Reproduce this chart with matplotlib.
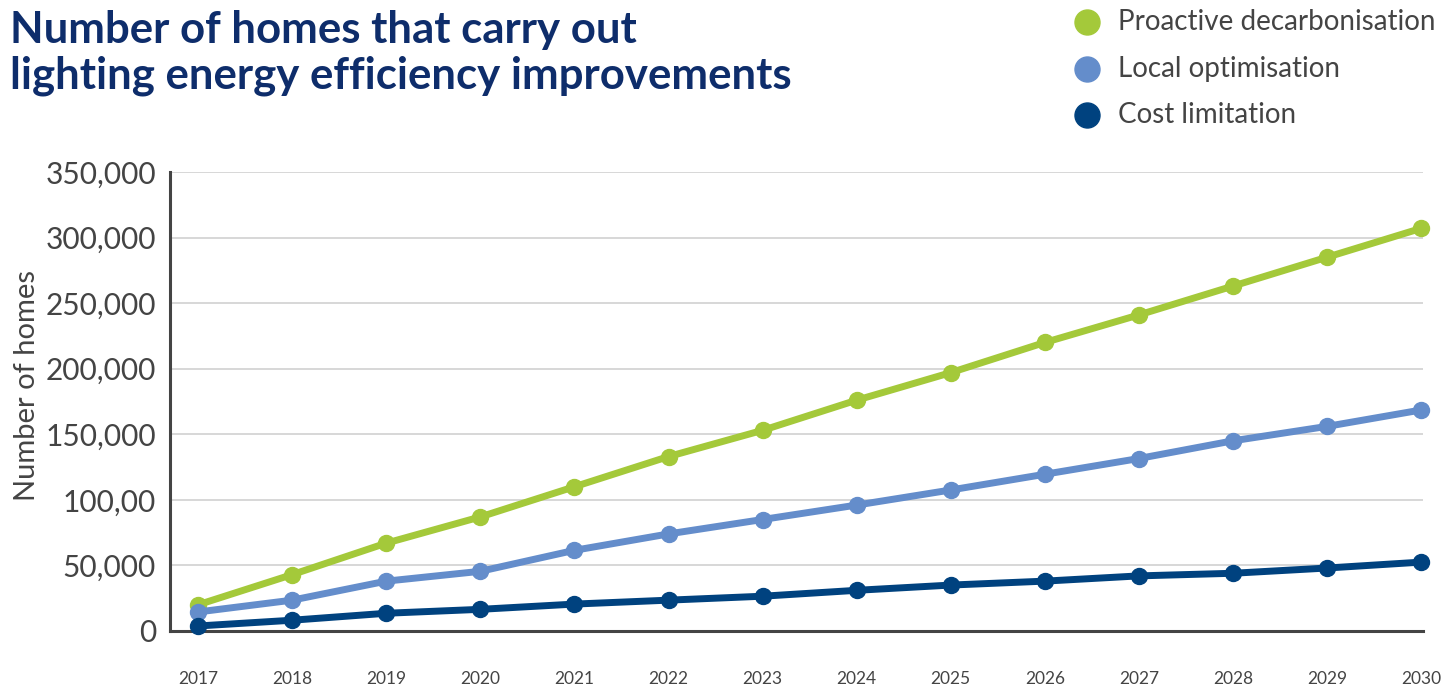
import matplotlib.pyplot as plt
from matplotlib.lines import Line2D

plt.rcParams['font.family'] = ['Lato', 'DejaVu Sans']

years = list(range(2017, 2031))
proactive = [20000, 43000, 67000, 87000, 110000, 133000, 153000, 176000, 197000, 220000, 241000, 263000, 285000, 307000]
local_opt = [14500, 23500, 38000, 45500, 61500, 74000, 85000, 96000, 107500, 119500, 131500, 145000, 156000, 168500]
cost_lim = [3800, 8200, 13500, 16500, 20500, 23500, 26500, 31000, 35000, 38000, 42000, 44000, 48000, 52500]

series_names = ['Proactive decarbonisation', 'Local optimisation', 'Cost limitation']
colors = ['#A4C93A', '#648DCB', '#00427F']
ytick_vals = [0, 50000, 100000, 150000, 200000, 250000, 300000, 350000]
ytick_labels = ['0', '50,000', '100,00', '150,000', '200,000', '250,000', '300,000', '350,000']

W, H = 1449, 688
fig = plt.figure(figsize=(W / 100, H / 100), dpi=100)
ax = fig.add_axes([0.1173, 0.0829, 0.8647, 0.6671])

for vals, c in zip([proactive, local_opt, cost_lim], colors):
    ax.plot(years, vals, color=c, lw=5, marker='o', markersize=11.5,
            solid_capstyle='round', clip_on=False, zorder=3)

ax.set_xlim(2016.70, 2030.02)
ax.set_ylim(0, 350000)
ax.set_yticks(ytick_vals)
ax.set_yticklabels(ytick_labels)
ax.set_xticks(years)
ax.tick_params(axis='y', length=0, pad=10, labelsize=21.5, labelcolor='#444444')
ax.tick_params(axis='x', length=0, pad=29, labelsize=12.5, labelcolor='#444444')
ax.grid(axis='y', color='#d4d4d4', lw=1.3)
ax.set_axisbelow(True)
for s in ['top', 'right']:
    ax.spines[s].set_visible(False)
for s in ['left', 'bottom']:
    ax.spines[s].set_color('#444444')
    ax.spines[s].set_linewidth(2.2)
ax.set_ylabel('Number of homes', fontsize=21, color='#444444')
ax.yaxis.set_label_coords(-0.104, 0.535)

fig.text(10 / W, 1 - 10 / H, 'Number of homes that carry out\nlighting energy efficiency improvements',
         fontsize=31.5, fontweight='bold', color='#0E2D6B', va='top', ha='left',
         linespacing=1.17)

# legend placed by hand at the top right
for i, (name, c) in enumerate(zip(series_names, colors)):
    yy = 1 - (22 + 46.5 * i) / H
    fig.add_artist(Line2D([1087 / W], [yy], marker='o', color=c, markersize=18,
                          transform=fig.transFigure))
    fig.text(1118 / W, yy, name, fontsize=20, color='#444444', va='center', ha='left')

fig.savefig('out.png', dpi=100)
